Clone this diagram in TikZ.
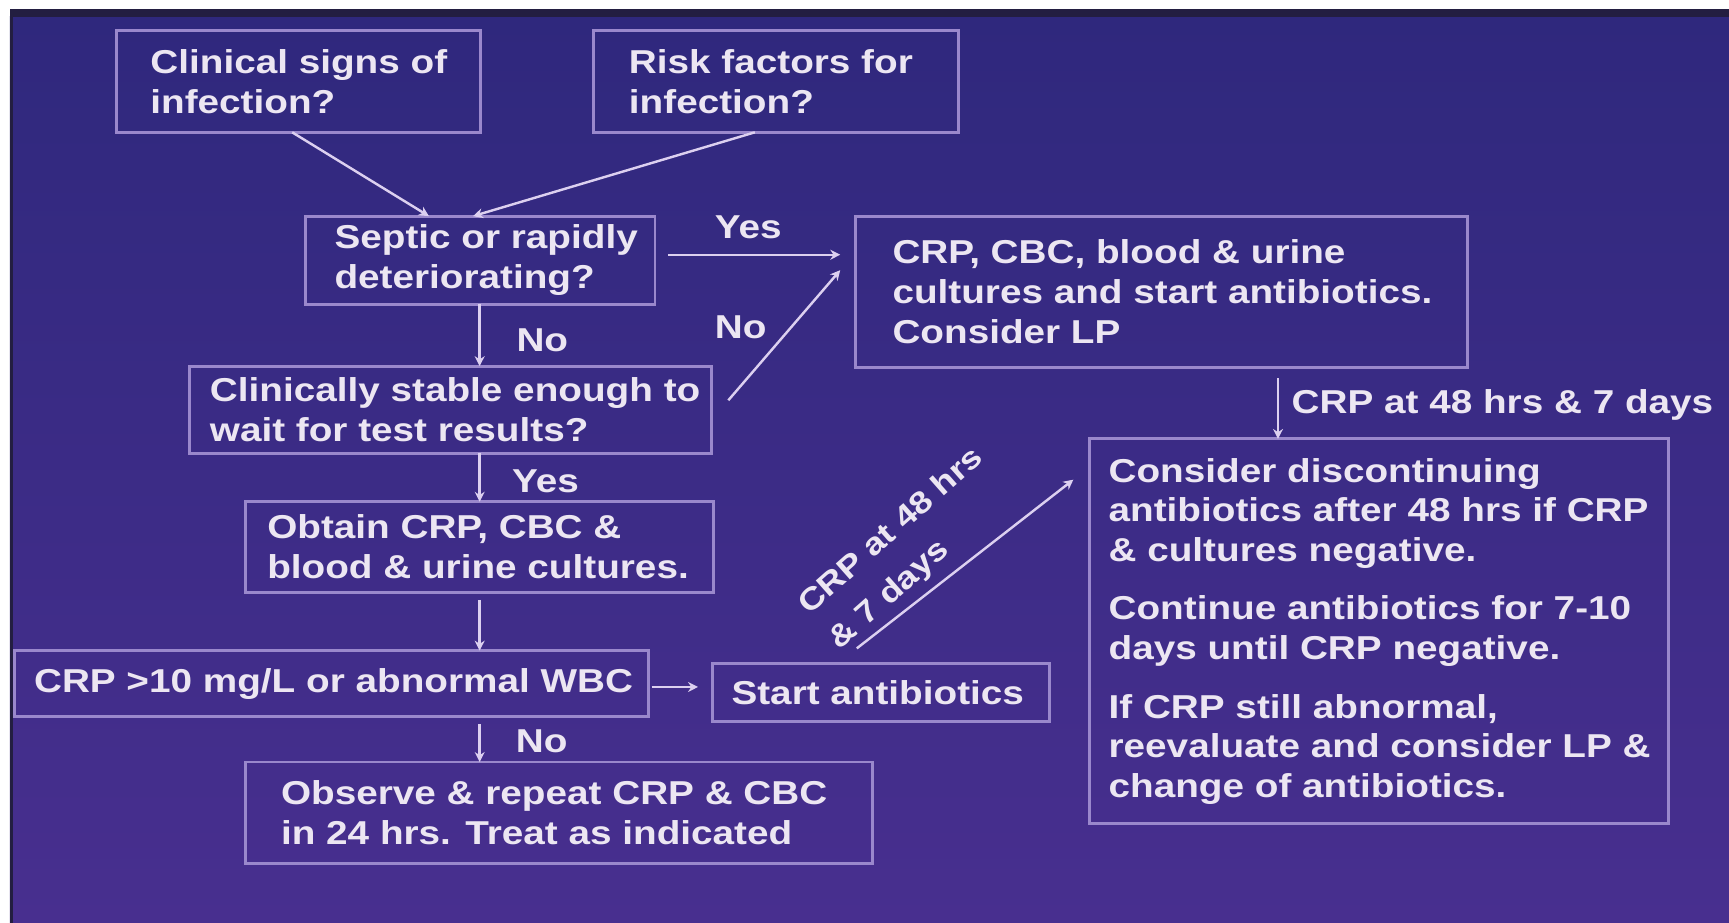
\documentclass[tikz,border=0pt]{standalone}
\usepackage{fontspec}
\setmainfont{Liberation Sans}[FakeStretch=1.17]
\usetikzlibrary{arrows.meta,calc}
\definecolor{bgtop}{HTML}{2F287D}
\definecolor{bgbot}{HTML}{482F8F}
\definecolor{band}{HTML}{231E41}
\definecolor{boxc}{HTML}{9A88CC}
\definecolor{txtc}{HTML}{ECE6F2}
\definecolor{arrc}{HTML}{DCD0F0}
\newcommand\bxfont{\fontsize{15}{18}\selectfont\bfseries}
\newcommand\rotfont{\fontsize{14}{21}\selectfont\bfseries}
\tikzset{
  box/.style={draw=boxc, line width=1.3pt, inner sep=0pt, outer sep=0pt, anchor=north west},
  txt/.style={text=txtc, font=\bxfont, align=left, inner sep=0pt, anchor=west},
  lbl/.style={text=txtc, font=\bxfont, inner sep=0pt, anchor=base west},
  arr/.style={draw=arrc, line width=1.1pt, -{Stealth[length=4.5pt,width=4.5pt]}}
}
\begin{document}
\begin{tikzpicture}[x=0.5pt,y=-0.5pt]
\useasboundingbox (0,0) rectangle (1568,837);
\fill[white] (0,0) rectangle (1568,837);
\shade[top color=bgtop, bottom color=bgbot] (9,15) rectangle (1568,837);
\fill[band] (9,8) rectangle (1568,15);
\fill[band] (9,8) rectangle (12,837);

% boxes
\node[box, minimum width=165pt,   minimum height=46pt]   (b1)  at (106,28)  {};
\node[box, minimum width=165.5pt, minimum height=46pt]   (b2)  at (538,28)  {};
\node[box, minimum width=158.5pt, minimum height=40pt]   (b3)  at (277,196) {};
\node[box, minimum width=277.5pt, minimum height=68.5pt] (b4)  at (776,196) {};
\node[box, minimum width=236.5pt, minimum height=39.5pt] (b5)  at (172,332) {};
\node[box, minimum width=212pt,   minimum height=41pt]   (b6)  at (223,455) {};
\node[box, minimum width=287.5pt, minimum height=30pt]   (b7)  at (13,590)  {};
\node[box, minimum width=153pt,   minimum height=26pt]   (b8)  at (646,602) {};
\node[box, minimum width=284pt,   minimum height=46pt]   (b9)  at (223,691) {};
\node[box, minimum width=262.5pt, minimum height=174.5pt](b10) at (988,398) {};

% texts
\node[txt] (t1) at ([xshift=15pt]b1.west) {Clinical signs of\\infection?};
\node[txt] (t2) at ([xshift=16pt]b2.west) {Risk factors for\\infection?};
\node[txt] (t3) at ([xshift=13pt]b3.west) {Septic or rapidly\\deteriorating?};
\node[txt] (t4) at ([xshift=16.5pt]b4.west) {CRP, CBC, blood \& urine\\cultures and start antibiotics.\\Consider LP};
\node[txt] (t5) at ([xshift=9pt]b5.west) {Clinically stable enough to\\wait for test results?};
\node[txt] (t6) at ([xshift=9.5pt]b6.west) {Obtain CRP, CBC \&\\blood \& urine cultures.};
\node[txt] (t7) at ([xshift=8.75pt]b7.west) {CRP >10 mg/L or abnormal WBC};
\node[txt] (t8) at ([xshift=8.5pt]b8.west) {Start antibiotics};
\node[txt] (t9) at ([xshift=15.75pt]b9.west) {Observe \& repeat CRP \& CBC\\in 24 hrs. Treat as indicated};
\node[txt] (t10) at ([xshift=8.5pt]b10.west) {Consider discontinuing\\antibiotics after 48 hrs if CRP\\\& cultures negative.\\[8.5pt]Continue antibiotics for 7-10\\days until CRP negative.\\[8.5pt]If CRP still abnormal,\\reevaluate and consider LP \&\\change of antibiotics.};

% connectors
\draw[arr] ($(b1.south west)+(159,0)$) -- ($(b3.north west)+(112,0)$);
\draw[arr] ($(b2.south west)+(146.5,0)$) -- ($(b3.north west)+(152,0)$);
\draw[arr] ($(b3.north east)+(12,35)$) -- ($(b4.north west)+(-14,35)$);
\draw[arr] ($(b5.north east)+(15.5,31)$) -- ($(b4.north west)+(-14,49)$);
\draw[arr] ($(b3.south west)+(158,0)$) -- ($(b5.north west)+(263,0)$);
\draw[arr] ($(b5.south west)+(263,0)$) -- ($(b6.north west)+(212,0)$);
\draw[arr] ($(b6.south west)+(212,7)$) -- ($(b7.north west)+(422,0)$);
\draw[arr] ($(b7.north east)+(3,33)$) -- ($(b8.north west)+(-13,21)$);
\draw[arr] ($(b7.south west)+(422,7)$) -- ($(b9.north west)+(212,0)$);
\draw[arr] ($(b8.north west)+(131,-14)$) -- ($(b10.north west)+(-14.6,37)$);
\draw[arr] ($(b4.south west)+(383,10)$) -- ($(b10.north west)+(171,0)$);

% labels
\node[lbl] (l1) at (648,216) {Yes};
\node[lbl] (l2) at (648,307) {No};
\node[lbl] (l3) at (468,319) {No};
\node[lbl] (l4) at (464,447) {Yes};
\node[lbl] (l5) at (467.5,682) {No};
\node[lbl] (l6) at (1171,375) {CRP at 48 hrs \& 7 days};
\node[text=txtc, font=\rotfont, align=left, inner sep=0pt, rotate=41.5] (l7) at (822.6,498.3) {CRP at 48 hrs\\\& 7 days};
\end{tikzpicture}
\end{document}
